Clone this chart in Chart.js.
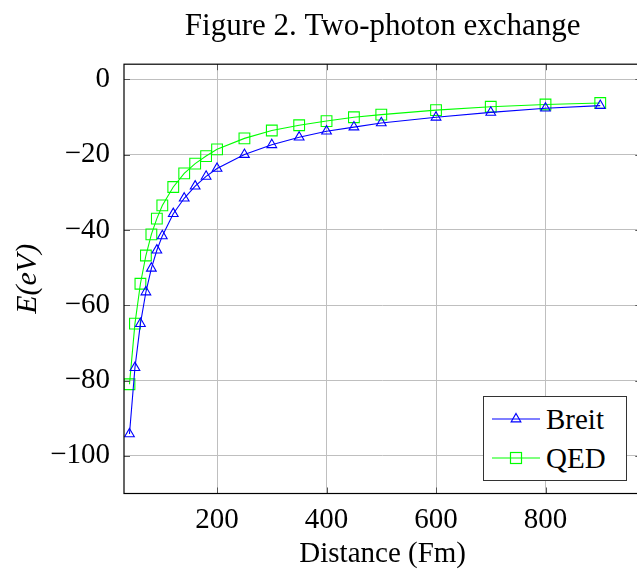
<!DOCTYPE html>
<html>
<head>
<meta charset="utf-8">
<script src="https://cdn.jsdelivr.net/npm/chart.js@4.4.1/dist/chart.umd.min.js"></script>
<style>
  html, body { margin: 0; padding: 0; background: #fff; overflow: hidden; }
  .wrap { position: relative; width: 650px; height: 580px; }
  .legend {
    position: absolute; left: 483px; top: 396px; width: 142px; height: 83px;
    border: 1px solid #333; background: #fff;
    font-family: "Liberation Serif", serif; font-size: 29px; color: #000;
  }
  .legend .row { position: absolute; left: 8px; height: 32px; display: flex; align-items: center; }
  .legend svg { width: 48px; height: 20px; margin-right: 6px; }
</style>
</head>
<body>
<div class="wrap">
  <canvas id="myChart" width="650" height="580"></canvas>
  <div class="legend">
    <div class="row" style="top:6px">
      <svg viewBox="0 0 48 20"><line x1="0" y1="10" x2="48" y2="10" stroke="#0000ff" stroke-width="1.2"/><polygon points="24,4.5 28.8,12.8 19.2,12.8" fill="none" stroke="#0000ff" stroke-width="1.2"/></svg>
      <span>Breit</span>
    </div>
    <div class="row" style="top:45px">
      <svg viewBox="0 0 48 20"><line x1="0" y1="10" x2="48" y2="10" stroke="#00ff00" stroke-width="1.2"/><rect x="18.5" y="4.5" width="11" height="11" fill="none" stroke="#00ff00" stroke-width="1.2"/></svg>
      <span>QED</span>
    </div>
  </div>
</div>
<script>
/*----------------------
~~~~~~~Data~~~~~~~
----------------------*/
const distances = [40, 50, 60, 70, 80, 90, 100, 120, 140, 160, 180, 200, 250, 300, 350, 400, 450, 500, 600, 700, 800, 900];
const breitValues = [-94.2, -76.6, -64.9, -56.5, -50.2, -45.4, -41.6, -35.7, -31.6, -28.4, -25.8, -23.7, -20.0, -17.4, -15.4, -13.8, -12.7, -11.6, -10.1, -8.8, -7.7, -7.0];
const qedValues = [-81.0, -64.9, -54.3, -46.8, -41.2, -37.0, -33.5, -28.6, -25.0, -22.4, -20.4, -18.6, -15.7, -13.6, -12.2, -11.1, -10.1, -9.4, -8.2, -7.3, -6.7, -6.3];
const xTicks = [200, 400, 600, 800];
const yTicks = [0, -20, -40, -60, -80, -100];

const serif = '"Liberation Serif", serif';
const ctx = document.getElementById('myChart').getContext('2d');

function toPoints(values) {
    return values.map((v, i) => ({ x: distances[i], y: v }));
}

// frame + inner tick marks like pgfplots
const framePlugin = {
    id: 'frame',
    afterDraw(chart) {
        const a = chart.chartArea;
        const c = chart.ctx;
        const xs = chart.scales.x;
        const ys = chart.scales.y;
        c.save();
        c.strokeStyle = '#555';
        c.lineWidth = 1;
        xTicks.forEach(v => {
            const px = Math.round(xs.getPixelForValue(v)) + 0.5;
            c.beginPath();
            c.moveTo(px, a.top); c.lineTo(px, a.top + 6);
            c.moveTo(px, a.bottom); c.lineTo(px, a.bottom - 6);
            c.stroke();
        });
        yTicks.forEach(v => {
            const py = Math.round(ys.getPixelForValue(v)) + 0.5;
            c.beginPath();
            c.moveTo(a.left, py); c.lineTo(a.left + 6, py);
            c.moveTo(a.right, py); c.lineTo(a.right - 6, py);
            c.stroke();
        });
        c.strokeStyle = '#000';
        c.lineWidth = 1.2;
        c.strokeRect(a.left, a.top, a.right - a.left, a.bottom - a.top);
        c.restore();
    }
};

const myChart = new Chart(ctx, {
    type: 'line',
    data: {
        datasets: [
            {
                label: 'Breit',
                data: toPoints(breitValues),
                borderColor: '#0000ff',
                backgroundColor: 'rgba(0,0,0,0)',
                borderWidth: 1.1,
                pointStyle: 'triangle',
                pointRadius: 5.6,
                pointBorderWidth: 1.1,
                tension: 0
            },
            {
                label: 'QED',
                data: toPoints(qedValues),
                borderColor: '#00ff00',
                backgroundColor: 'rgba(0,0,0,0)',
                borderWidth: 1.1,
                pointStyle: 'rect',
                pointRadius: 7.6,
                pointBorderWidth: 1.1,
                tension: 0
            }
        ]
    },
    options: {
        responsive: false,
        animation: false,
        layout: { padding: { top: 8, right: 5, left: 7, bottom: 8 } },
        plugins: {
            legend: { display: false },
            tooltip: { enabled: false },
            title: {
                display: true,
                fullSize: false,
                text: 'Figure 2. Two-photon exchange',
                color: '#000',
                font: { family: serif, size: 31, weight: 'normal' },
                padding: { top: 0, bottom: 19 }
            }
        },
        scales: {
            x: {
                type: 'linear',
                min: 30,
                max: 975,
                afterBuildTicks: scale => { scale.ticks = xTicks.map(v => ({ value: v })); },
                afterFit: scale => { scale.height = 78.5; },
                grid: { color: '#bfbfbf', lineWidth: 1, drawTicks: false },
                border: { display: false },
                ticks: { color: '#000', padding: 9, font: { family: serif, size: 29 } },
                title: {
                    display: true, text: 'Distance (Fm)', color: '#000',
                    font: { family: serif, size: 29 }, padding: { top: 0, bottom: 0 }
                }
            },
            y: {
                type: 'linear',
                min: -110,
                max: 4,
                afterBuildTicks: scale => { scale.ticks = yTicks.map(v => ({ value: v })); },
                afterFit: scale => { scale.width = 117; },
                grid: { color: '#bfbfbf', lineWidth: 1, drawTicks: false },
                border: { display: false },
                ticks: {
                    color: '#000', padding: 14, font: { family: serif, size: 29 },
                    callback: v => v < 0 ? '\u2212' + Math.abs(v) : String(v)
                },
                title: {
                    display: true, text: 'E(eV)', color: '#000',
                    font: { family: serif, size: 30, style: 'italic' }, padding: { top: 3, bottom: 2 }
                }
            }
        }
    },
    plugins: [framePlugin]
});
</script>
</body>
</html>
